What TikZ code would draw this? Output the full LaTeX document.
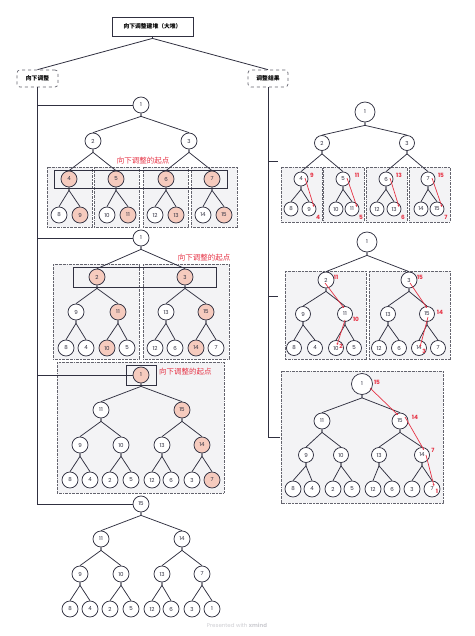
\documentclass[tikz,border=0pt]{standalone}
\usepackage{fontspec}
\setmainfont{Poppins}
\newfontfamily\cjk{Noto Sans CJK SC}
\usetikzlibrary{arrows.meta,calc}
\definecolor{ink}{RGB}{48,48,64}
\definecolor{hotc}{RGB}{246,203,190}
\definecolor{redc}{RGB}{230,52,70}
\definecolor{boxc}{RGB}{243,243,245}
\definecolor{boxd}{RGB}{100,100,110}
\definecolor{wm}{RGB}{205,205,210}
\newcommand\tedge[2]{\draw[edge] (#1.south) -- ([yshift=-3pt]#1.south) -- (#2.north);}
\begin{document}
\begin{tikzpicture}[x=1pt,y=-1pt,
  nd/.style={circle,draw=ink,line width=0.75pt,minimum size=16pt,inner sep=0pt,text=ink,font=\fontsize{5.5}{5.5}\selectfont},
  edge/.style={draw=ink,line width=0.75pt},
  grp/.style={draw=boxd,fill=boxc,line width=0.6pt,dash pattern=on 2pt off 0.8pt on 0.6pt off 0.8pt},
  frame/.style={draw=ink,line width=0.75pt},
  redl/.style={text=redc,font=\cjk\fontsize{7.5}{8}\selectfont,inner sep=0pt},
  rnum/.style={text=redc,font=\bfseries\fontsize{5.8}{6}\selectfont,inner sep=0pt},
  swap/.style={draw=redc,line width=0.7pt,-{Stealth[length=2pt,width=2pt]}},
  trunk/.style={draw=ink,line width=0.8pt},
  topic/.style={draw=ink,line width=0.8pt,fill=white,minimum width=81pt,minimum height=19pt,inner sep=0pt,font=\cjk\bfseries\fontsize{5.8}{6}\selectfont,text=black},
  sub/.style={draw=boxd,line width=0.7pt,dashed,rounded corners=3pt,fill=white,minimum height=17pt,inner sep=0pt,font=\cjk\bfseries\fontsize{5.8}{6}\selectfont,text=black}
]
\useasboundingbox (0,0) rectangle (474,636);

% group boxes
\foreach \a/\b/\c/\d in {47/167/92/227, 94/167/139/227, 143/167/188/227, 191/167/237/227,
  53/264/139/359, 143/264/229/359, 57/362/224/493,
  281/167/322/222, 323/167/364/222, 366/167/407/222, 409/167/450/222,
  285/271/366/359, 369/271/450/359, 281/371/443/503}
  \draw[grp] (\a,\b) rectangle (\c,\d);

% topics
\node[topic] (T) at (152.5,26.5) {向下调整建堆（大堆）};
\node[sub,minimum width=41pt] (L) at (37.5,78.5) {向下调整};
\node[sub,minimum width=40pt] (R) at (268,78.5) {调整结果};
\draw[trunk] (T.south) -- ([yshift=-2pt]T.south) -- (L.north);
\draw[trunk] (T.south) -- ([yshift=-2pt]T.south) -- (R.north);

% tree A
\foreach \i/\x/\y/\t/\f in {1/141/105/1/white,2/93/141/2/white,3/189/141/3/white,
  4/69/179/4/hotc,5/116/179/5/hotc,6/166/179/6/hotc,7/212/179/7/hotc,
  8/59/215/8/white,9/80/215/9/hotc,10/107/215/10/white,11/128/215/11/hotc,
  12/155/215/12/white,13/176/215/13/hotc,14/203/215/14/white,15/224/215/15/hotc}
  \node[nd,fill=\f] (A\i) at (\x,\y) {\t};
% tree B
\foreach \i/\x/\y/\t/\f in {1/141/238/1/white,2/97/277/2/hotc,3/185/277/3/hotc,
  4/76/312/9/white,5/118/312/11/hotc,6/166/312/13/white,7/206/312/15/hotc,
  8/66/348/8/white,9/86/348/4/white,10/107/348/10/hotc,11/127/348/5/white,
  12/155/348/12/white,13/175/348/6/white,14/196/348/14/hotc,15/216/348/7/white}
  \node[nd,fill=\f] (B\i) at (\x,\y) {\t};
% tree C
\foreach \i/\x/\y/\t/\f in {1/141/375/1/hotc,2/101/410/11/white,3/182/410/15/hotc,
  4/80/445/9/white,5/121/445/10/white,6/162/445/13/white,7/202/445/14/hotc,
  8/70/480/8/white,9/90/480/4/white,10/110/480/2/white,11/131/480/5/white,
  12/152/480/12/white,13/171/480/6/white,14/192/480/3/white,15/212/480/7/hotc}
  \node[nd,fill=\f] (C\i) at (\x,\y) {\t};
% tree D
\foreach \i/\x/\y/\t in {1/141/504/15,2/101/539/11,3/182/539/14,
  4/80/574/9,5/121/574/10,6/162/574/13,7/202/574/7,
  8/70/609/8,9/90/609/4,10/110/609/2,11/131/609/5,
  12/152/609/12,13/171/609/6,14/192/609/3,15/212/609/1}
  \node[nd,fill=white] (D\i) at (\x,\y) {\t};
% tree E
\foreach \i/\x/\y/\t/\m in {1/365/112/1/20,2/322/143/2/15,3/407/143/3/15,
  4/301/179/4/14,5/343/179/5/14,6/386/179/6/14,7/428/179/7/14,
  8/291/209/8/14,9/309/209/9/14,10/336/209/10/14,11/352/209/11/14,
  12/377/209/12/14,13/394/209/13/14,14/421/209/14/14,15/437/209/15/14}
  \node[nd,fill=white,minimum size=\m pt] (E\i) at (\x,\y) {\t};
% tree F
\foreach \i/\x/\y/\t/\m in {1/367/242/1/20,2/326/280/2/16,3/409/280/3/16,
  4/303/314/9/15,5/345/314/11/15,6/388/314/13/15,7/427/314/15/15,
  8/294/348/8/15,9/315/348/4/15,10/336/348/10/15,11/354/348/5/15,
  12/379/348/12/15,13/399/348/6/15,14/419/348/14/15,15/438/348/7/15}
  \node[nd,fill=white,minimum size=\m pt] (F\i) at (\x,\y) {\t};
% tree G
\foreach \i/\x/\y/\t/\m in {1/362/384/1/21,2/322/421/11/16,3/400/421/15/16,
  4/306/455/9/15,5/341/455/10/15,6/379/455/13/15,7/422/455/14/15,
  8/293/489/8/16,9/312/489/4/16,10/333/489/2/16,11/352/489/5/16,
  12/373/489/12/16,13/392/489/6/16,14/412/489/3/16,15/432/489/7/16}
  \node[nd,fill=white,minimum size=\m pt] (G\i) at (\x,\y) {\t};

% tree edges
\foreach \t in {A,B,C,D,E,F,G}
  \foreach \p/\c in {1/2,1/3,2/4,2/5,3/6,3/7,4/8,4/9,5/10,5/11,6/12,6/13,7/14,7/15}
    {\tedge{\t\p}{\t\c}}

% frames around starting points
\draw[frame] (54,170) rectangle (227,188);
\draw[frame] (73,267) rectangle (216,287);
\draw[frame] (126,365) rectangle (156,385);
\node[redl] (la) at (143,161) {向下调整的起点};
\node[redl] (lb) at (204,258) {向下调整的起点};
\node[redl,anchor=west] (lc) at (159,372) {向下调整的起点};

% left trunk
\draw[trunk] (L.south) |- (A1.west);
\draw[trunk] (L.south) |- (B1.west);
\draw[trunk] (L.south) |- (C1.west);
\draw[trunk] (L.south) |- (D1.west);

% right trunk
\coordinate (rE) at (278,161);
\coordinate (rF) at (278,296);
\coordinate (rG) at (280,437);
\draw[trunk] (R.south) |- (rE);
\draw[trunk] (R.south) |- (rF);
\draw[trunk] (R.south) |- (rG);

% red swaps, tree E
\draw[swap] ($(E4.center)+(4,-1)$) -- ($(E9.center)+(5,-2)$);
\draw[swap] ($(E5.center)+(4,-1)$) -- ($(E11.center)+(5,-2)$);
\draw[swap] ($(E6.center)+(4,-1)$) -- ($(E13.center)+(5,-2)$);
\draw[swap] ($(E7.center)+(4,-1)$) -- ($(E15.center)+(5,-2)$);
\foreach \x/\y/\t in {312/175/9,357/175/11,399/175/13,441/175/15,318/217/4,361/217/5,403/217/6,446/217/7}
  \node[rnum] (ne\t) at (\x,\y) {\t};
% tree F
\draw[swap] ($(F2.center)+(-1,3)$) -- ($(F5.center)+(-1,-6)$);
\draw[swap] ($(F5.center)+(0,6)$) -- ($(F10.center)+(1,-3)$);
\draw[swap] ($(F3.center)+(1,3)$) -- ($(F7.center)+(0,-6)$);
\draw[swap] ($(F7.center)+(1,3)$) -- ($(F14.center)+(1,-1)$);
\foreach \x/\y/\t in {336/277/11,356/319/10,341/346/2,420/277/15,440/312/14,424/351/3}
  \node[rnum] (nf\t) at (\x,\y) {\t};
% tree G
\draw[swap] ($(G1.center)+(8,4)$) -- ($(G3.center)+(-2,-6)$);
\draw[swap] ($(G3.center)+(5,-4)$) -- ($(G7.center)+(2,-5)$);
\draw[swap] ($(G7.center)+(4,0)$) -- ($(G15.center)+(2,-3)$);
\foreach \x/\y/\t in {377/382/15,415/417/14,433/450/7,437/491/1}
  \node[rnum] (ng\t) at (\x,\y) {\t};

\node[text=wm,font=\fontsize{5.5}{6}\selectfont] (wmk) at (237,625) {Presented with \textbf{xmind}};
\end{tikzpicture}
\end{document}
